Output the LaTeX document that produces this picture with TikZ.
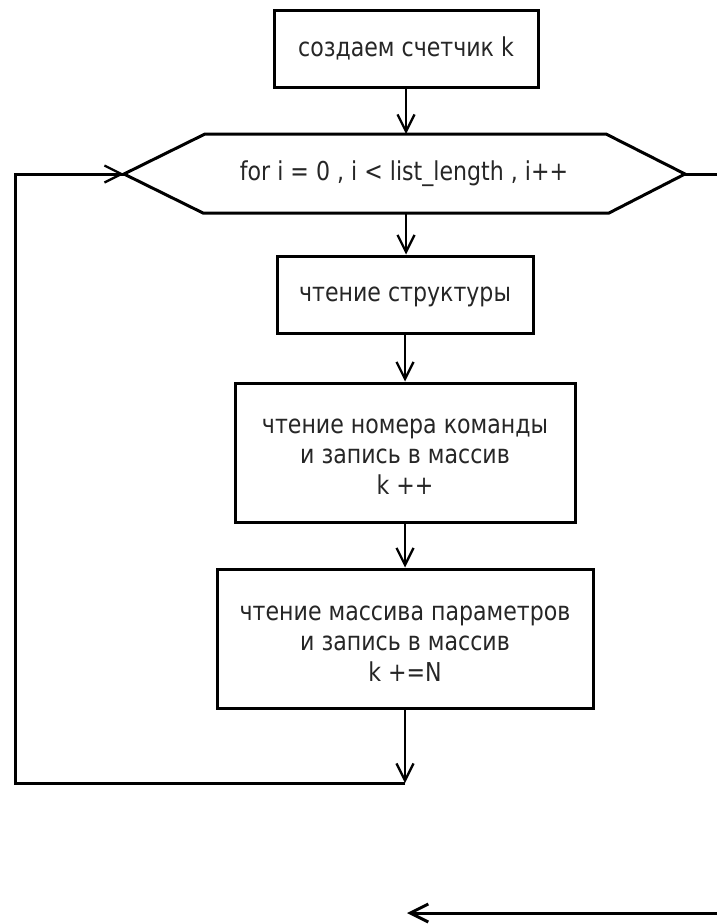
\documentclass[tikz,border=0pt]{standalone}
\usepackage{fontspec}
\setmainfont[FakeStretch=0.85]{DejaVu Sans}
\usetikzlibrary{arrows.meta}
\begin{document}
\begin{tikzpicture}[x=1pt,y=-1pt,
  txt/.style={text=black!85, font=\fontsize{26}{30.5}\selectfont, align=center, inner sep=0pt},
  box/.style={draw=black, line width=3pt, rectangle, inner sep=0pt},
  conn/.style={line width=2.3pt, -{Straight Barb[length=17pt,width=17pt]}},
  wire/.style={line width=3pt, line join=miter},
  wirearrow/.style={line width=3pt, -{Straight Barb[length=18pt,width=18pt]}}]
  \useasboundingbox[fill=white] (0,0) rectangle (717,924);

  % process boxes
  \node[box, minimum width=264pt, minimum height=77pt] (b1) at (406,48.5) {};
  \node[txt] (t1) at (b1.center) {создаем счетчик k};
  \node[box, minimum width=256pt, minimum height=77pt] (b2) at (405,294.5) {};
  \node[txt] (t2) at ([yshift=-2pt]b2.center) {чтение структуры};
  \node[box, minimum width=340pt, minimum height=139pt] (b3) at (405,452.5) {};
  \node[txt] (t3) at ([yshift=-4pt]b3.center) {чтение номера команды\\и запись в массив\\k ++};
  \node[box, minimum width=376pt, minimum height=139pt] (b4) at (405,638.5) {};
  \node[txt] (t4) at ([yshift=-5pt]b4.center) {чтение массива параметров\\и запись в массив\\k +=N};

  % loop header (hexagon)
  \coordinate (hexL) at (124,174);
  \coordinate (hexR) at (685,174);
  \coordinate (hexT) at (406,134);
  \coordinate (hexB) at (406,213);
  \draw[wire] (hexL) -- (205,134) -- (606,134) -- (hexR) -- (609,213) -- (203,213) -- cycle;
  \node[txt] (hexlabel) at (404,174) {for i = 0 , i < list\_length , i++};

  % flow
  \draw[conn] (b1.south -| hexT) -- (hexT);
  \draw[conn] (hexB) -- (hexB |- b2.north);
  \draw[conn] (b2.south) -- (b3.north);
  \draw[conn] (b3.south) -- (b4.north);

  % loop back
  \coordinate (loopEnd) at (405,783);
  \coordinate (cornerBL) at (15,783);
  \coordinate (cornerTL) at (15,174);
  \draw[conn] (b4.south) -- (loopEnd);
  \draw[wire] (loopEnd) -- (cornerBL) -- (cornerTL) -- (hexL);
  \draw[conn] (cornerTL) -- (hexL);

  % loop exit
  \coordinate (exitR) at (717,174);
  \draw[wire] (hexR) -- (exitR);
  \coordinate (retR) at (717,913);
  \coordinate (retTip) at (407,913);
  \draw[wirearrow] (retR) -- (retTip);
\end{tikzpicture}
\end{document}
